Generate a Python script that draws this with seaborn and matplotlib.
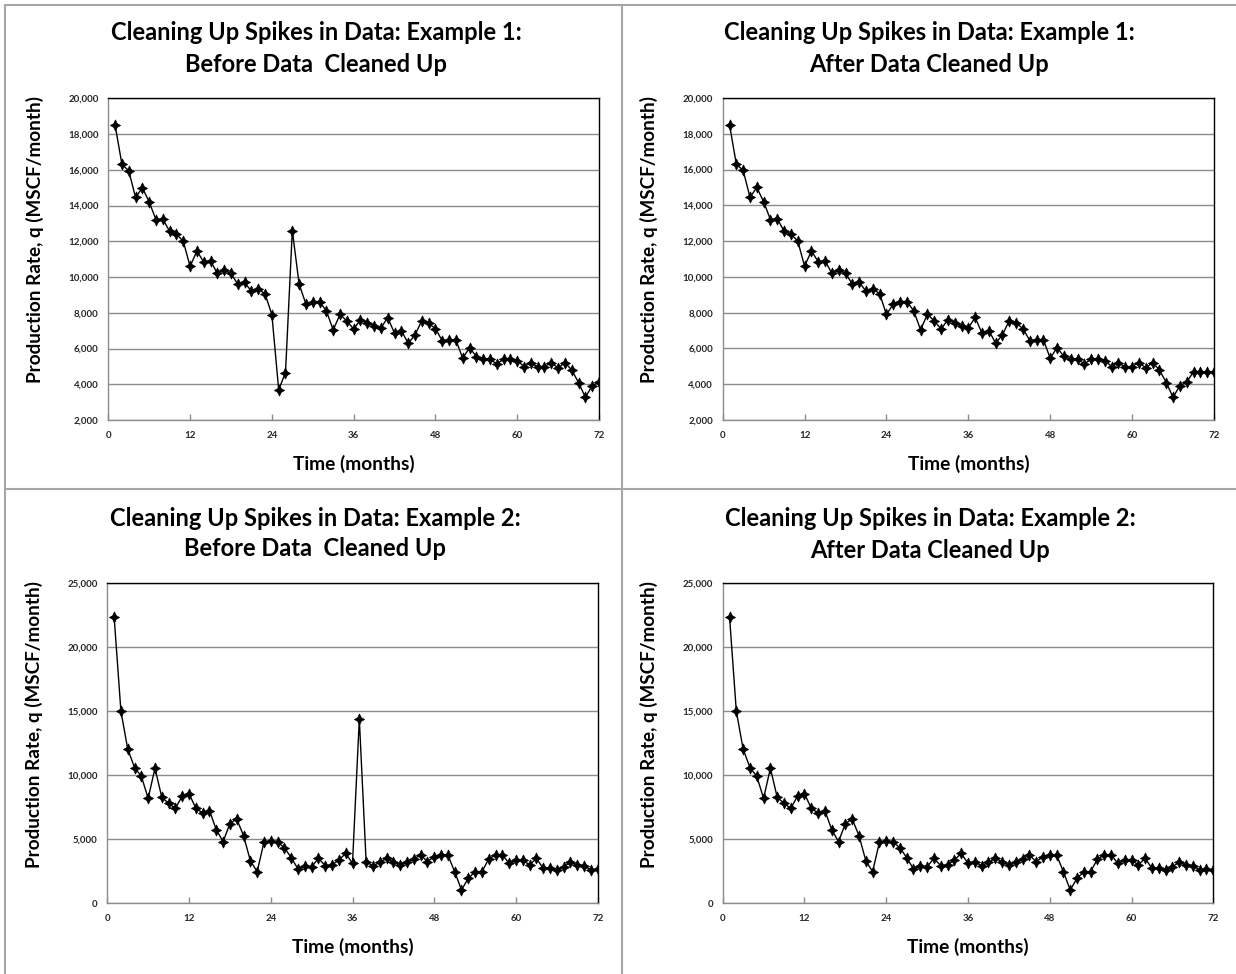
import matplotlib
matplotlib.use("Agg")
import matplotlib.pyplot as plt
import seaborn as sns
import pandas as pd
from matplotlib.ticker import FuncFormatter
from matplotlib.lines import Line2D
from matplotlib.path import Path

sns.set_theme(style="white")
plt.rcParams["font.family"] = ["Lato", "DejaVu Sans"]

# Monthly gas production rate, q (MSCF/month), months 1..72
months = list(range(1, 73))

ex1_before = [
    18500, 16300, 15950, 14450, 15000, 14200, 13200, 13250, 12550, 12400,
    12000, 10600, 11450, 10850, 10900, 10200, 10400, 10200, 9600, 9700,
    9200, 9350, 9050, 7900, 3700, 4650, 12600, 9600, 8480, 8620,
    8620, 8100, 7040, 7910, 7540, 7090, 7600, 7450, 7260, 7150,
    7730, 6850, 7000, 6290, 6760, 7560, 7410, 7110, 6440, 6480,
    6480, 5450, 6050, 5550, 5400, 5400, 5140, 5400, 5430, 5320,
    4990, 5210, 4950, 4990, 5210, 4910, 5210, 4800, 4090, 3270,
    3920, 4110,
]

ex1_after = [
    18500, 16300, 15950, 14450, 15000, 14200, 13200, 13250, 12550, 12400,
    12000, 10600, 11450, 10850, 10900, 10200, 10400, 10200, 9600, 9700,
    9200, 9350, 9050, 7900, 8480, 8620, 8620, 8100, 7040, 7910,
    7540, 7090, 7600, 7450, 7260, 7150, 7730, 6850, 7000, 6290,
    6760, 7560, 7410, 7110, 6440, 6480, 6480, 5450, 6050, 5550,
    5400, 5400, 5140, 5400, 5430, 5320, 4990, 5210, 4950, 4990,
    5210, 4910, 5210, 4800, 4090, 3270, 3920, 4110, 4710, 4710,
    4680, 4710,
]

ex2_before = [
    22400, 15000, 12050, 10600, 9920, 8200, 10550, 8280, 7810, 7420,
    8390, 8570, 7420, 7060, 7240, 5750, 4820, 6220, 6590, 5290,
    3330, 2470, 4770, 4870, 4770, 4350, 3570, 2680, 2880, 2860,
    3510, 2940, 3000, 3380, 3900, 3120, 14400, 3250, 2920, 3200,
    3510, 3250, 3000, 3250, 3460, 3780, 3250, 3650, 3780, 3780,
    2470, 1040, 1950, 2470, 2470, 3460, 3780, 3780, 3120, 3380,
    3380, 3000, 3510, 2730, 2730, 2600, 2860, 3200, 3000, 2940,
    2600, 2660,
]

ex2_after = [
    22400, 15000, 12050, 10600, 9920, 8200, 10550, 8280, 7810, 7420,
    8390, 8570, 7420, 7060, 7240, 5750, 4820, 6220, 6590, 5290,
    3330, 2470, 4770, 4870, 4770, 4350, 3570, 2680, 2880, 2860,
    3510, 2940, 3000, 3380, 3900, 3120, 3250, 2920, 3200, 3510,
    3250, 3000, 3250, 3460, 3780, 3250, 3650, 3780, 3780, 2470,
    1040, 1950, 2470, 2470, 3460, 3780, 3780, 3120, 3380, 3380,
    3000, 3510, 2730, 2730, 2600, 2860, 3200, 3000, 2940, 2600,
    2660, 2600,
]

x_ticks = [0, 12, 24, 36, 48, 60, 72]
ex1_y_ticks = list(range(2000, 20001, 2000))
ex2_y_ticks = list(range(0, 25001, 5000))

title_line1 = ["Cleaning Up Spikes in Data: Example 1:",
               "Cleaning Up Spikes in Data: Example 1:",
               "Cleaning Up Spikes in Data: Example 2:",
               "Cleaning Up Spikes in Data: Example 2:"]
title_line2 = ["Before Data  Cleaned Up", "After Data Cleaned Up",
               "Before Data  Cleaned Up", "After Data Cleaned Up"]
x_label = "Time (months)"
y_label = "Production Rate, q (MSCF/month)"

W, H = 1236, 974
fig = plt.figure(figsize=(W / 100, H / 100), dpi=100)
fig.patch.set_facecolor("white")

# diamond with slightly pinched sides
k = 0.36
diamond = Path([(0, 1.1), (k, k), (1, 0), (k, -k), (0, -1.1), (-k, -k),
                (-1, 0), (-k, k), (0, 1.1)], closed=True)


def px_box(x0, y0, x1, y1):
    return [x0 / W, 1 - y1 / H, (x1 - x0) / W, (y1 - y0) / H]


panels = [
    dict(series=ex1_before, yticks=ex1_y_ticks, box=(108.3, 98.3, 599.0, 420.0), cx=316, ty=(33, 65)),
    dict(series=ex1_after, yticks=ex1_y_ticks, box=(722.7, 98.0, 1214.0, 420.0), cx=929, ty=(32, 64)),
    dict(series=ex2_before, yticks=ex2_y_ticks, box=(107.3, 583.3, 597.7, 903.3), cx=315, ty=(518, 549)),
    dict(series=ex2_after, yticks=ex2_y_ticks, box=(722.7, 583.3, 1213.3, 903.3), cx=930, ty=(518, 550)),
]

grid_grey = "#8c8c8c"
tick_color = "#262626"

for i, p in enumerate(panels):
    ax = fig.add_axes(px_box(*p["box"]))
    df = pd.DataFrame({"month": months, "rate": p["series"]})
    sns.lineplot(data=df, x="month", y="rate", ax=ax, color="black",
                 linewidth=1.0, marker=diamond, markersize=8.0,
                 markeredgecolor="black", markerfacecolor="black",
                 markeredgewidth=0.5)
    ax.set_xlim(0, 72)
    ax.set_ylim(p["yticks"][0], p["yticks"][-1])
    ax.set_xticks(x_ticks)
    ax.set_yticks(p["yticks"])
    ax.yaxis.set_major_formatter(FuncFormatter(lambda v, _: f"{int(v):,}"))
    ax.grid(axis="y", color=grid_grey, linewidth=1.0)
    ax.grid(axis="x", visible=False)
    ax.set_axisbelow(True)
    for side in ("top", "right"):
        ax.spines[side].set_color("black")
        ax.spines[side].set_linewidth(1.0)
    for side in ("left", "bottom"):
        ax.spines[side].set_color(grid_grey)
        ax.spines[side].set_linewidth(1.0)
    ax.tick_params(axis="x", direction="in", length=4, width=1.0, color=grid_grey,
                   labelsize=7, labelcolor=tick_color, pad=8, bottom=True)
    ax.tick_params(axis="y", length=0, labelsize=7, labelcolor=tick_color, pad=7)
    for lab in ax.get_xticklabels() + ax.get_yticklabels():
        lab.set_fontweight("bold")

    ax.set_xlabel(x_label, fontsize=13.8, fontweight="bold", color="black")
    ax.xaxis.set_label_coords(0.5, -0.137)
    ax.xaxis.label.set_va("center")
    ax.set_ylabel(y_label, fontsize=13.6, fontweight="bold", color="black")
    ax.yaxis.set_label_coords(-0.15, 0.56)
    ax.yaxis.label.set_va("center")

    fig.text(p["cx"] / W, 1 - p["ty"][0] / H, title_line1[i], ha="center", va="center",
             fontsize=17, fontweight="bold", color="black")
    fig.text(p["cx"] / W, 1 - p["ty"][1] / H, title_line2[i], ha="center", va="center",
             fontsize=17, fontweight="bold", color="black")

# cell borders around the four charts
border = "#a6a6a6"
fig.add_artist(Line2D([5 / W, 5 / W], [0, 1 - 5 / H], color=border, linewidth=1.5))
fig.add_artist(Line2D([5 / W, 1], [1 - 5 / H, 1 - 5 / H], color=border, linewidth=1.5))
fig.add_artist(Line2D([622 / W, 622 / W], [0, 1 - 5 / H], color=border, linewidth=1.5))
fig.add_artist(Line2D([5 / W, 1], [1 - 489 / H, 1 - 489 / H], color=border, linewidth=1.5))

fig.savefig("out.png", dpi=100, facecolor="white")
